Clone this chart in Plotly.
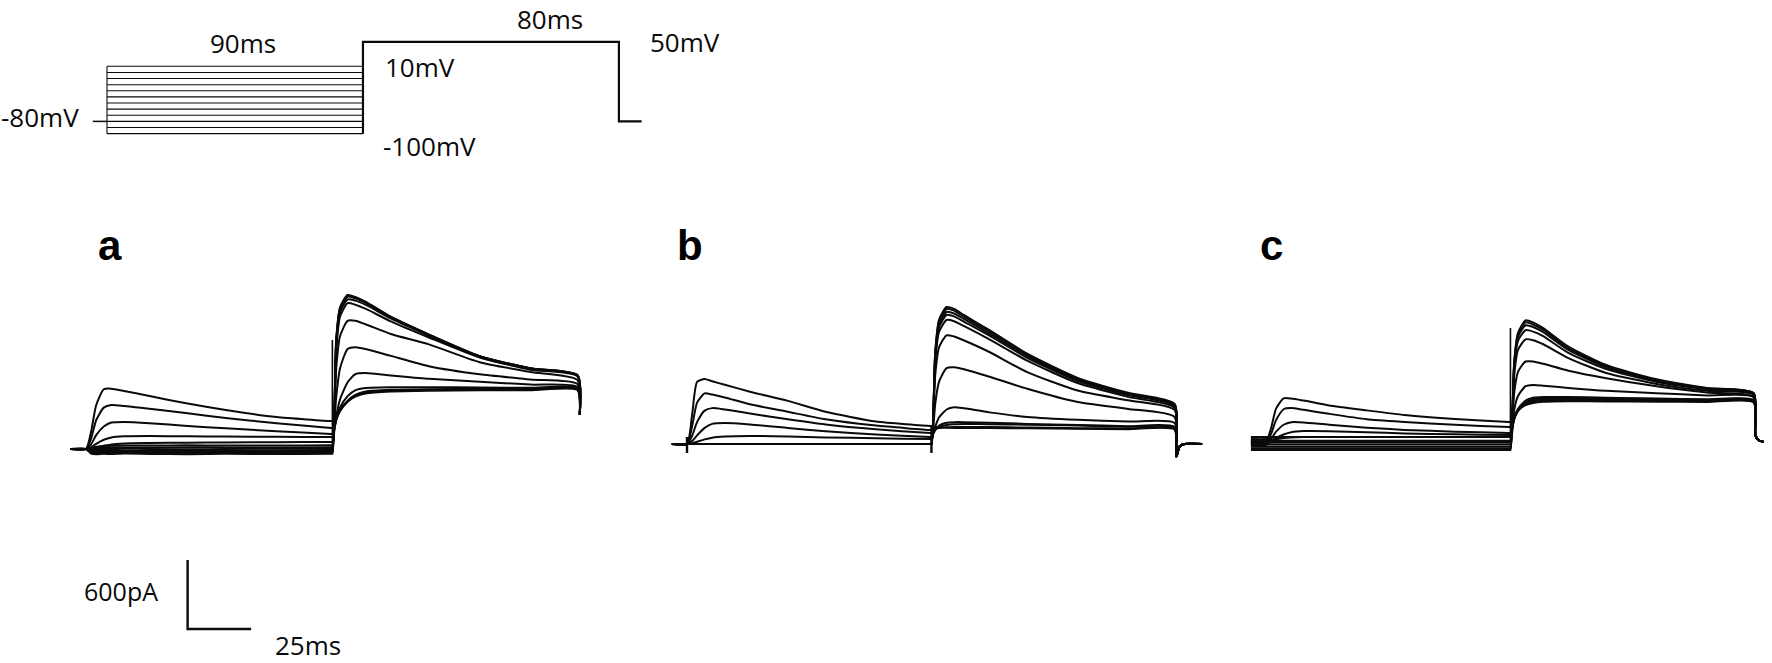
import plotly.graph_objects as go

# ---------------- data ----------------
STEP_MV = [10, 0, -10, -20, -30, -40, -50, -60, -70, -80, -90, -100]   # pre-pulse potentials
HOLD_MV = -80
TEST_MV = 50
PROTO_T = [-5, 0, 90, 180, 188]          # schematic time points (ms, as drawn)

# sample times (ms) for current traces
PRE_T = [-6, 0, 2, 4, 7, 10, 15, 25, 40, 55, 75, 96.5]
TEST_T = [97, 98.5, 100, 103, 106, 110, 120, 135, 155, 175, 193.5]

# ---- panel a (pA) ----
A_PRE = [
    [0, 0, 150, 380, 520, 525, 505, 460, 395, 339, 278, 243],
    [0, 0, 90, 250, 360, 383, 375, 350, 310, 270, 225, 183],
    [0, 0, 40, 120, 195, 230, 235, 225, 200, 180, 155, 130],
    [0, 0, 15, 45, 80, 100, 110, 113, 110, 108, 106, 104],
    [0, 0, 5, 15, 28, 40, 48, 52, 55, 57, 59, 61],
    [0, 0, 10, 20, 25, 28, 30, 30, 32, 30, 30, 32],
    [0, 0, 5, 8, 10, 12, 14, 12, 15, 14, 12, 15],
    [0, 0, -5, -5, 0, 0, 2, 0, -3, 0, 2, 0],
    [0, 0, -10, -15, -12, -10, -15, -12, -10, -14, -12, -10],
    [0, 0, -20, -25, -22, -25, -20, -24, -22, -25, -20, -22],
    [0, 0, -30, -35, -32, -35, -30, -33, -35, -32, -34, -30],
    [0, 0, -40, -45, -42, -44, -40, -43, -45, -42, -44, -42],
]
A_TEST = [
    [243, 300, 350, 415, 455, 482, 500, 507, 510, 511, 512],
    [183, 270, 330, 410, 460, 490, 508, 513, 515, 515, 517],
    [130, 250, 330, 420, 470, 500, 515, 520, 522, 522, 522],
    [104, 250, 360, 460, 510, 530, 537, 537, 535, 532, 530],
    [61, 280, 430, 580, 650, 660, 640, 610, 585, 560, 539],
    [32, 450, 700, 870, 885, 870, 810, 720, 650, 605, 565],
    [15, 700, 980, 1115, 1115, 1085, 1000, 910, 755, 670, 600],
    [0, 850, 1150, 1268, 1255, 1220, 1110, 970, 795, 690, 632],
    [-10, 900, 1190, 1300, 1290, 1255, 1135, 985, 800, 698, 638],
    [-22, 930, 1215, 1325, 1310, 1272, 1145, 992, 805, 700, 641],
    [-30, 940, 1222, 1332, 1316, 1277, 1148, 994, 806, 701, 642],
    [-42, 950, 1230, 1339, 1322, 1282, 1150, 995, 808, 702, 643],
]
A_END_T = [194.4]
A_END_I = [300]
A_SPIKE = [97.0, 948]

# ---- panel b (pA) ----
B_PRE = [
    [0, 0, 250, 540, 565, 545, 515, 455, 375, 280, 195, 157],
    [0, 0, 150, 360, 440, 430, 405, 345, 280, 215, 160, 122],
    [0, 0, 70, 190, 290, 312, 300, 265, 215, 170, 128, 96],
    [0, 0, 25, 75, 140, 175, 182, 170, 140, 110, 82, 61],
    [0, 0, 5, 20, 40, 55, 65, 70, 65, 57, 50, 43],
] + [[0] * 12 for _ in range(7)]
B_TEST = [
    [157, 150, 145, 142, 140, 139, 139, 137, 133, 129, 125],
    [122, 130, 138, 145, 148, 148, 147, 143, 138, 134, 130],
    [96, 130, 150, 165, 172, 174, 172, 168, 160, 150, 140],
    [61, 120, 160, 185, 190, 190, 185, 175, 165, 155, 148],
    [43, 150, 230, 300, 320, 310, 275, 235, 210, 195, 183],
    [0, 350, 540, 660, 668, 650, 585, 480, 365, 305, 235],
    [0, 600, 840, 945, 935, 900, 800, 625, 465, 380, 296],
    [0, 720, 975, 1078, 1068, 1025, 910, 725, 530, 410, 315],
    [0, 750, 1015, 1122, 1110, 1062, 942, 750, 548, 425, 328],
    [0, 770, 1040, 1148, 1135, 1085, 960, 765, 560, 433, 335],
    [0, 790, 1065, 1174, 1160, 1105, 978, 778, 568, 440, 342],
    [0, 800, 1080, 1191, 1175, 1120, 990, 785, 575, 445, 348],
]
B_END_T = [194.2, 195.5, 197.5, 204.4]
B_END_I = [-110, -20, 0, 0]
B_BLIP_ON = [0.0, 61, -78]
B_BLIP_TEST = [97.0, -78, 150]

# ---- panel c (pA) ----
C_PRE = [
    [5, 5, 120, 290, 380, 378, 360, 318, 275, 235, 200, 174],
    [-10, -10, 70, 190, 285, 295, 280, 245, 198, 175, 150, 130],
    [20, 20, 30, 90, 150, 172, 170, 150, 125, 105, 90, 78],
    [-25, -25, 10, 35, 65, 85, 95, 94, 85, 75, 67, 61],
    [35, 35, 20, 25, 35, 40, 43, 43, 43, 43, 43, 43],
    [-40] * 12,
    [10] * 12,
    [-55] * 12,
    [43] * 12,
    [-20] * 12,
    [-70] * 12,
    [0] * 12,
]
C_TEST = [
    [174, 230, 275, 320, 340, 350, 355, 353, 350, 348, 345],
    [130, 210, 270, 330, 352, 362, 365, 362, 358, 354, 350],
    [78, 200, 270, 335, 360, 370, 375, 372, 368, 362, 355],
    [61, 200, 280, 345, 370, 380, 383, 380, 375, 370, 360],
    [43, 200, 290, 360, 385, 391, 391, 385, 378, 370, 365],
    [-40, 280, 400, 485, 496, 490, 470, 445, 425, 405, 391],
    [10, 430, 610, 700, 700, 680, 620, 555, 485, 430, 391],
    [-55, 580, 800, 893, 885, 850, 730, 600, 505, 445, 409],
    [43, 650, 880, 972, 960, 920, 775, 635, 522, 458, 418],
    [-20, 675, 915, 1015, 1000, 955, 800, 650, 532, 464, 422],
    [-70, 690, 935, 1040, 1022, 975, 815, 660, 538, 467, 424],
    [0, 700, 950, 1058, 1040, 990, 830, 670, 545, 470, 426],
]
C_END_T = [194.2, 195.5, 197.5]
C_END_I = [60, 15, 0]
C_SPIKE = [97.0, 991]

SCALE_MS = 25
SCALE_PA = 600

# ---------------- layout helpers ----------------
W, H = 1772, 663


def axes_for(x0, y0, kx, ky, L, R, T, B):
    xa = dict(domain=[L / W, R / W], range=[(L - x0) / kx, (R - x0) / kx])
    ya = dict(domain=[1 - B / H, 1 - T / H], range=[(y0 - B) / ky, (y0 - T) / ky])
    return xa, ya


KX, KY = 2.52, 0.115       # px per ms, px per pA
axP = axes_for(107, 72.44, 2.844, 0.612, 0, 700, 0, 200)
axA = axes_for(86, 449, 2.54, KY, 55, 605, 270, 645)
axB = axes_for(687, 444, KX, KY, 655, 1215, 270, 470)
axC = axes_for(1266, 442, KX, KY, 1235, 1772, 270, 470)

fig = go.Figure()
INK = "#0a0a0a"


def line(x, y, ref, width=2.0, shape="linear", smooth=None):
    kw = dict(x=x, y=y, mode="lines", xaxis=ref[0], yaxis=ref[1], hoverinfo="skip",
              showlegend=False, line=dict(color=INK, width=width, shape=shape))
    if smooth is not None:
        kw["line"]["smoothing"] = smooth
    fig.add_trace(go.Scatter(**kw))


# ---- protocol schematic ----
P = ("x", "y")
t_hold0, t_on, t_test, t_off, t_end = PROTO_T
line([t_hold0, t_on], [HOLD_MV, HOLD_MV], P, 1.5)
for v in STEP_MV:
    line([t_on, t_test], [v, v], P, 1.1)
line([t_on, t_on], [min(STEP_MV), max(STEP_MV)], P, 1.1)
line([t_test, t_test, t_off, t_off, t_end],
     [min(STEP_MV), TEST_MV, TEST_MV, HOLD_MV, HOLD_MV], P, 2.2)

# ---- current panels ----
panels = [
    (("x2", "y2"), A_PRE, A_TEST, A_END_T, A_END_I),
    (("x3", "y3"), B_PRE, B_TEST, B_END_T, B_END_I),
    (("x4", "y4"), C_PRE, C_TEST, C_END_T, C_END_I),
]
for ref, pre, test, et, ei in panels:
    for i in range(len(STEP_MV)):
        line(PRE_T + TEST_T + et, pre[i] + test[i] + ei, ref, 2.0, "spline", 0.6)

line([A_SPIKE[0], A_SPIKE[0]], [0, A_SPIKE[1]], ("x2", "y2"), 1.6)
line([C_SPIKE[0], C_SPIKE[0]], [0, C_SPIKE[1]], ("x4", "y4"), 1.6)
line([B_BLIP_ON[0], B_BLIP_ON[0]], B_BLIP_ON[1:], ("x3", "y3"), 2.4)
line([B_BLIP_TEST[0], B_BLIP_TEST[0]], B_BLIP_TEST[1:], ("x3", "y3"), 2.4)

# ---- scale bar (panel a coordinates) ----
sb_t0, sb_i0 = 40, -1565
line([sb_t0, sb_t0, sb_t0 + SCALE_MS], [sb_i0 + SCALE_PA, sb_i0, sb_i0], ("x2", "y2"), 2.4)

# ---------------- axes ----------------
hidden = dict(visible=False, fixedrange=True)
lay = {}
for n, (xa, ya) in zip(["", "2", "3", "4"], [axP, axA, axB, axC]):
    lay["xaxis" + n] = dict(**xa, **hidden, anchor="y" + n)
    lay["yaxis" + n] = dict(**ya, **hidden, anchor="x" + n)

TXT = dict(family="Open Sans, Liberation Sans, Arial, sans-serif", size=26, color=INK)
LBL = dict(family="Liberation Sans, Arial, sans-serif", size=42, color="#000000")


def note(text, px, py, xanchor="center", font=TXT):
    return dict(text=text, x=px / W, y=1 - py / H, xref="paper", yref="paper",
                xanchor=xanchor, yanchor="middle", showarrow=False, font=font)


annotations = [
    note("80ms", 550, 19),
    note("90ms", 243, 43),
    note("50mV", 648, 42, "left"),
    note("10mV", 383, 67, "left"),
    note("-100mV", 381, 146, "left"),
    note("-80mV", 81, 117, "right"),
    note("<b>a</b>", 96, 245, "left", LBL),
    note("<b>b</b>", 675, 245, "left", LBL),
    note("<b>c</b>", 1258, 245, "left", LBL),
    note("600pA", 160, 591, "right", dict(TXT, size=25)),
    note(f"{SCALE_MS}ms", 308, 645),
]

fig.update_layout(
    width=W, height=H,
    margin=dict(l=0, r=0, t=0, b=0),
    paper_bgcolor="white", plot_bgcolor="rgba(0,0,0,0)",
    showlegend=False,
    annotations=annotations,
    **lay,
)

fig.write_html("out.html", config={"displayModeBar": False, "staticPlot": True},
               post_script="document.body.style.margin='0';")
